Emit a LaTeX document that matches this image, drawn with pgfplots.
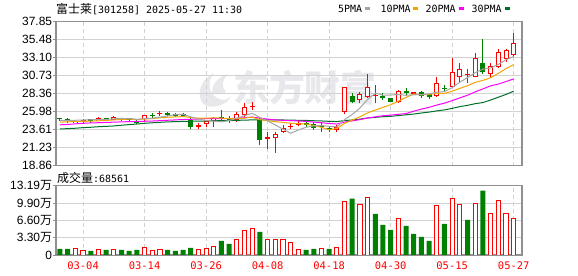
\documentclass[border=0pt]{standalone}
\usepackage{pgfplots}
\pgfplotsset{compat=1.18}
\usepackage{pgfplotstable}
\usepackage{fontspec}
\setmainfont{Liberation Sans}
\newfontfamily\cjk{Noto Sans CJK SC}
\newfontfamily\mono{DejaVu Sans Mono}
\definecolor{kred}{RGB}{255,0,0}
\definecolor{kgreen}{RGB}{0,128,0}
\definecolor{ma5c}{RGB}{165,165,165}
\definecolor{ma10c}{RGB}{240,165,0}
\definecolor{ma20c}{RGB}{255,0,255}
\definecolor{ma30c}{RGB}{0,112,40}
\definecolor{gridc}{RGB}{210,210,210}
\definecolor{framec}{RGB}{144,144,144}
\definecolor{wmark}{RGB}{232,232,236}

% i open high low close candle-up volume-up volume(10k)
\pgfplotstableread{
i o h l c cu vu v
0 25.15 25.15 24.75 25.08 0 0 1.15
1 24.95 25.10 24.55 24.88 0 0 1.15
2 24.52 24.95 24.45 24.80 1 1 1.28
3 24.60 25.00 24.40 24.95 1 1 0.89
4 24.95 25.07 24.52 24.90 0 0 0.77
5 24.80 25.25 24.75 25.10 1 1 1.08
6 25.08 25.20 24.80 25.02 0 0 0.96
7 24.92 25.40 24.85 25.28 1 1 1.08
8 25.05 25.15 24.70 25.00 0 0 0.96
9 25.05 25.15 24.75 24.98 0 0 0.77
10 24.77 24.85 24.35 24.55 0 0 0.96
11 25.00 25.55 24.75 25.52 1 1 1.47
12 25.55 25.80 25.20 25.50 0 1 0.89
13 25.75 26.03 25.43 25.80 1 1 1.08
14 25.75 25.98 25.43 25.70 0 0 0.96
15 25.58 25.85 25.30 25.55 0 0 0.77
16 25.60 25.85 25.25 25.55 0 0 0.96
17 24.90 25.33 23.66 24.00 0 0 1.34
18 24.10 24.50 23.66 24.18 1 1 1.08
19 24.36 24.90 24.00 24.80 1 1 1.28
20 24.80 25.33 24.01 25.19 1 1 1.66
21 25.28 26.20 24.90 25.02 0 0 2.68
22 24.93 25.46 24.45 24.89 0 0 2.11
23 24.89 25.98 24.67 25.63 1 1 3.00
24 25.55 27.08 25.33 26.56 1 1 4.72
25 26.70 27.30 26.20 26.75 1 1 5.10
26 24.89 25.33 21.55 22.25 0 0 4.40
27 22.50 23.35 21.06 22.60 1 1 3.00
28 22.47 23.35 20.58 22.99 1 1 3.00
29 23.26 24.23 23.13 23.79 1 1 3.00
30 24.05 24.44 23.65 24.09 1 1 2.42
31 24.35 24.70 24.05 24.40 1 1 1.08
32 24.45 24.65 24.00 24.40 0 0 0.96
33 24.30 24.65 23.55 23.87 0 0 1.15
34 24.10 24.44 23.35 24.05 0 1 1.28
35 23.80 24.00 23.35 23.56 0 0 1.15
36 23.56 24.23 23.25 24.00 1 1 1.47
37 25.99 29.20 25.64 29.20 1 1 10.27
38 28.05 28.49 27.09 27.30 0 0 10.72
39 27.53 28.62 27.09 28.27 1 1 9.57
40 27.96 30.95 27.75 29.20 1 1 10.85
41 28.20 29.50 27.09 28.15 1 0 7.85
42 28.00 28.40 27.53 27.96 0 0 5.74
43 27.75 27.85 27.20 27.30 0 0 4.79
44 27.22 28.85 27.10 28.71 1 1 7.02
45 28.65 29.06 28.05 28.60 0 0 5.55
46 28.45 28.53 28.30 28.50 1 0 4.02
47 28.53 28.71 27.74 28.05 0 0 3.45
48 28.31 28.49 27.60 27.87 0 0 2.68
49 28.05 30.60 27.96 29.72 1 1 9.51
50 29.10 29.50 28.62 29.00 0 0 5.93
51 29.28 33.02 29.06 31.17 1 1 10.66
52 30.51 32.36 29.94 31.57 1 1 9.57
53 30.90 31.57 29.81 30.95 1 0 6.70
54 30.60 33.68 30.51 33.02 1 1 9.89
55 32.36 35.52 30.95 31.26 0 0 12.25
56 30.95 32.36 30.38 32.01 1 1 7.98
57 31.92 34.20 31.70 33.81 1 1 10.46
58 32.89 34.20 32.58 34.12 1 1 7.85
59 33.46 36.40 33.24 35.00 1 1 6.86
}\kdata

\pgfplotstableread{
i ma5 ma10 ma20 ma30
0 24.80 24.60 24.25 23.70
1 24.82 24.65 24.30 23.75
2 24.85 24.68 24.38 23.80
3 24.88 24.70 24.45 23.88
4 24.92 24.74 24.50 23.93
5 24.93 24.78 24.53 24.00
6 24.95 24.83 24.57 24.05
7 25.05 24.90 24.60 24.10
8 25.06 24.95 24.64 24.20
9 25.08 25.00 24.67 24.28
10 24.97 24.95 24.70 24.36
11 25.07 25.01 24.72 24.45
12 25.11 25.08 24.75 24.52
13 25.27 25.17 24.80 24.58
14 25.41 25.25 24.85 24.64
15 25.61 25.29 24.90 24.67
16 25.62 25.34 24.95 24.70
17 25.32 25.22 24.98 24.72
18 25.00 25.13 25.02 24.74
19 24.82 25.12 25.06 24.76
20 24.74 25.18 25.06 24.78
21 24.64 25.13 25.07 24.80
22 24.82 25.07 25.07 24.82
23 25.11 25.05 25.11 24.84
24 25.46 25.14 25.19 24.87
25 25.77 25.26 25.27 24.90
26 25.22 24.93 25.14 24.90
27 24.76 24.79 25.00 24.90
28 24.23 24.67 24.90 24.90
29 23.68 24.57 24.84 24.89
30 23.14 24.46 24.81 24.86
31 23.57 24.40 24.76 24.85
32 23.93 24.35 24.70 24.83
33 24.11 24.17 24.61 24.79
34 24.16 23.92 24.53 24.76
35 24.06 23.60 24.43 24.71
36 23.98 23.78 24.35 24.68
37 24.94 24.44 24.61 24.81
38 25.62 24.87 24.77 24.89
39 26.46 25.31 24.94 25.00
40 27.59 25.82 25.14 25.15
41 28.42 26.20 25.30 25.24
42 28.18 26.55 25.45 25.32
43 28.18 26.90 25.53 25.37
44 28.26 27.36 25.64 25.47
45 28.14 27.87 25.73 25.57
46 28.21 28.32 26.05 25.67
47 28.23 28.20 26.32 25.81
48 28.35 28.26 26.56 25.93
49 28.55 28.41 26.86 26.09
50 28.63 28.39 27.11 26.22
51 29.16 28.69 27.44 26.42
52 29.87 29.05 27.81 26.65
53 30.48 29.41 28.16 26.82
54 31.14 29.85 28.60 27.04
55 31.59 30.11 28.99 27.19
56 31.76 30.46 29.39 27.52
57 32.21 31.04 29.62 27.89
58 32.84 31.66 29.96 28.26
59 33.24 32.19 30.30 28.69
}\madata

\pgfplotsset{
  kpanel/.style={
    scale only axis, width=466bp,
    xmin=-0.52, xmax=60.08,
    axis line style={framec, line width=1.3bp},
    xtick={3,11,19,27,35,43,51,59},
    xmajorgrids, ymajorgrids,
    x grid style={gridc, dashed, dash pattern=on 4bp off 3bp, line width=0.9bp},
    y grid style={gridc, line width=0.9bp},
    xtick style={draw=none},
    ytick style={framec, line width=0.8bp},
    major tick length=3bp,
    tick align=outside, tick pos=left,
    yticklabel style={font=\fontsize{12}{12}\selectfont, text=black, inner xsep=0.7bp},
  },
  kbar/.style={draw=none, no markers, forget plot,
    error bars/y explicit, error bars/error mark=none},
}

\begin{document}
\begin{tikzpicture}
\useasboundingbox (0,0) rectangle (578bp,276bp);
% watermark (logo sketch and name)
\begin{scope}[x=1bp, y=1bp]
\fill[wmark] (203,172) .. controls (196,182) and (200,196) .. (214,203)
  .. controls (207,194) and (208,184) .. (217,178)
  .. controls (222,175) and (228,176) .. (231,180)
  .. controls (228,171) and (212,166) .. (203,172) -- cycle;
\fill[wmark] (212,183) .. controls (212,192) and (218,199) .. (228,202)
  .. controls (222,196) and (221,189) .. (226,184)
  .. controls (221,181) and (215,181) .. (212,183) -- cycle;
\end{scope}
\node[text=wmark, font=\cjk\bfseries\fontsize{36}{36}\selectfont, anchor=west, inner sep=0pt] at (233bp,188bp) {东方财富};

% title and legend
\node[anchor=west, inner sep=0pt] at (56bp,267bp) {{\cjk\fontsize{12}{12}\selectfont 富士莱}{\mono\fontsize{10}{10}\selectfont [301258] 2025-05-27 11:30}};
\begin{scope}[font=\mono\fontsize{10}{10}\selectfont]
\node[anchor=west, inner sep=0pt] at (338bp,267bp) {5PMA};
\fill[ma5c] (365bp,265.5bp) rectangle (370bp,269bp);
\node[anchor=west, inner sep=0pt] at (380.5bp,267bp) {10PMA};
\fill[ma10c] (413bp,265.5bp) rectangle (418bp,269bp);
\node[anchor=west, inner sep=0pt] at (425.5bp,267bp) {20PMA};
\fill[ma20c] (459bp,265.5bp) rectangle (464bp,269bp);
\node[anchor=west, inner sep=0pt] at (471.5bp,267bp) {30PMA};
\fill[ma30c] (505bp,265.5bp) rectangle (510bp,269bp);
\end{scope}

\begin{axis}[kpanel,
  at={(56bp,110.3bp)}, anchor=south west, height=144bp,
  ymin=18.86, ymax=37.85,
  ytick={18.86,21.23,23.61,25.98,28.36,30.73,33.10,35.48,37.85},
  yticklabels={18.86,21.23,23.61,25.98,28.36,30.73,33.10,35.48,37.85},
  xticklabels={},
]
% red candles: wick, body, hollow inside
\addplot[kbar, restrict expr to domain={\thisrow{cu}}{1:1},
  error bars/y dir=plus, error bars/error bar style={draw=kred, line width=1bp}]
  table[x=i, y=l, y error plus expr=\thisrow{h}-\thisrow{l}] {\kdata};
\addplot[kbar, restrict expr to domain={\thisrow{cu}}{1:1},
  error bars/y dir=both, error bars/error bar style={draw=kred, line width=5bp}]
  table[x=i, y expr=(\thisrow{o}+\thisrow{c})/2, y error expr={max(abs(\thisrow{c}-\thisrow{o})/2,0.07)}] {\kdata};
\addplot[kbar, restrict expr to domain={\thisrow{cu}}{1:1},
  error bars/y dir=both, error bars/error bar style={draw=white, line width=3bp}]
  table[x=i, y expr=(\thisrow{o}+\thisrow{c})/2, y error expr={max(abs(\thisrow{c}-\thisrow{o})/2-0.13,0)}] {\kdata};
% green candles
\addplot[kbar, restrict expr to domain={\thisrow{cu}}{0:0},
  error bars/y dir=plus, error bars/error bar style={draw=kgreen, line width=1bp}]
  table[x=i, y=l, y error plus expr=\thisrow{h}-\thisrow{l}] {\kdata};
\addplot[kbar, restrict expr to domain={\thisrow{cu}}{0:0},
  error bars/y dir=both, error bars/error bar style={draw=kgreen, line width=5bp}]
  table[x=i, y expr=(\thisrow{o}+\thisrow{c})/2, y error expr={max(abs(\thisrow{c}-\thisrow{o})/2,0.07)}] {\kdata};
% moving averages
\addplot[ma30c, line width=1bp, mark=none] table[x=i, y=ma30] {\madata};
\addplot[ma20c, line width=1bp, mark=none] table[x=i, y=ma20] {\madata};
\addplot[ma10c, line width=1bp, mark=none] table[x=i, y=ma10] {\madata};
\addplot[ma5c, line width=1bp, mark=none] table[x=i, y=ma5] {\madata};
\end{axis}

\node[anchor=west, inner sep=0pt] at (57bp,98.5bp) {{\cjk\fontsize{12}{12}\selectfont 成交量}{\mono\fontsize{10}{10}\selectfont :68561}};

\begin{axis}[kpanel,
  at={(56bp,21bp)}, anchor=south west, height=69.3bp,
  ymin=0, ymax=13.19,
  ytick={0,3.30,6.60,9.90,13.19},
  yticklabels={0,3.30{\cjk 万},6.60{\cjk 万},9.90{\cjk 万},13.19{\cjk 万}},
  xticklabels={03-04,03-14,03-26,04-08,04-18,04-30,05-15,05-27},
  xticklabel style={font=\mono\fontsize{10.5}{10.5}\selectfont, text=kred},
]
\addplot[ybar, bar width=4.2bp, bar shift=0pt, draw=kred, fill=white, line width=1bp,
  restrict expr to domain={\thisrow{vu}}{1:1}]
  table[x=i, y=v] {\kdata};
\addplot[ybar, bar width=5bp, bar shift=0pt, draw=none, fill=kgreen,
  restrict expr to domain={\thisrow{vu}}{0:0}]
  table[x=i, y=v] {\kdata};
\end{axis}
\end{tikzpicture}
\end{document}
